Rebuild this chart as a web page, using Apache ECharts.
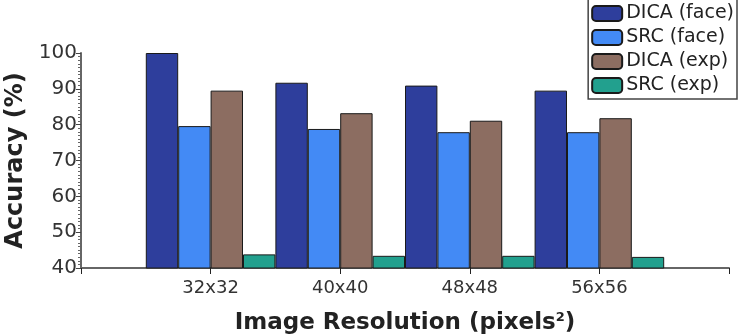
<!DOCTYPE html>
<html>
<head>
<meta charset="utf-8">
<script src="https://cdn.jsdelivr.net/npm/echarts@6/dist/echarts.min.js"></script>
<style>
  html, body { margin: 0; padding: 0; background: #fff; }
</style>
</head>
<body>
<div id="myChart" style="width: 751px; height: 336px;"></div>
<script>
// empty end slots give the half-band padding either side of the groups
let categories = ['', '32x32', '40x40', '48x48', '56x56', '']
let dicaFace = ['-', 100, 91.7, 90.9, 89.5, '-']
let srcFace = ['-', 79.6, 78.8, 77.9, 77.9, '-']
let dicaExp = ['-', 89.5, 83.2, 81.1, 81.8, '-']
let srcExp = ['-', 43.8, 43.4, 43.4, 43.1, '-']
let yTicks = [40, 50, 60, 70, 80, 90, 100]

let myChart = echarts.init(document.getElementById('myChart'))
let font = 'DejaVu Sans, sans-serif'

function bar (name, color, data) {
  return {
    name: name,
    type: 'bar',
    barGap: '0%',
    barCategoryGap: '0%',
    itemStyle: { color: color, borderColor: '#1a1a1a', borderWidth: 1 },
    data: data
  }
}

myChart.setOption({
  animation: false,
  textStyle: { fontFamily: font },
  legend: {
    orient: 'vertical',
    right: 14,
    top: -2,
    itemWidth: 30,
    itemHeight: 15,
    itemGap: 5,
    padding: [6, 3, 4, 3],
    borderColor: '#444',
    borderWidth: 1.5,
    textStyle: { fontSize: 19, lineHeight: 19, color: '#222', fontFamily: font, padding: [0, 0, 0, -1] },
    data: ['DICA (face)', 'SRC (face)', 'DICA (exp)', 'SRC (exp)']
  },
  grid: { left: 81, right: 22, top: 53, bottom: 68, containLabel: false, outerBoundsMode: 'none' },
  xAxis: {
    type: 'category',
    boundaryGap: false,
    data: categories,
    axisLine: { lineStyle: { color: '#666', width: 2 } },
    axisTick: { show: true, length: 6, lineStyle: { color: '#222' } },
    axisLabel: { color: '#333', fontSize: 18, margin: 11, fontFamily: font },
    name: 'Image Resolution (pixels{sup|2})',
    nameLocation: 'middle',
    nameGap: 43,
    nameTextStyle: {
      fontSize: 23,
      fontWeight: 'bold',
      color: '#222',
      fontFamily: font,
      rich: { sup: { fontSize: 13, fontWeight: 'bold', verticalAlign: 'top', padding: [0, 0, 11, 0] } }
    }
  },
  yAxis: {
    type: 'value',
    min: yTicks[0],
    max: yTicks[yTicks.length - 1],
    interval: 10,
    splitLine: { show: false },
    axisLine: { show: true, lineStyle: { color: '#666', width: 2 } },
    axisTick: { show: true, length: 5, lineStyle: { color: '#444' } },
    minorTick: { show: true, splitNumber: 10, length: 3, lineStyle: { color: '#666' } },
    axisLabel: { color: '#333', fontSize: 20, margin: 4, fontFamily: font },
    name: 'Accuracy (%)',
    nameLocation: 'middle',
    nameRotate: 90,
    nameGap: 53,
    nameTextStyle: { fontSize: 24, fontWeight: 'bold', color: '#222', fontFamily: font }
  },
  series: [
    bar('DICA (face)', '#2e3e9c', dicaFace),
    bar('SRC (face)', '#438af5', srcFace),
    bar('DICA (exp)', '#8c6d61', dicaExp),
    bar('SRC (exp)', '#22a08e', srcExp)
  ]
})
</script>
</body>
</html>
